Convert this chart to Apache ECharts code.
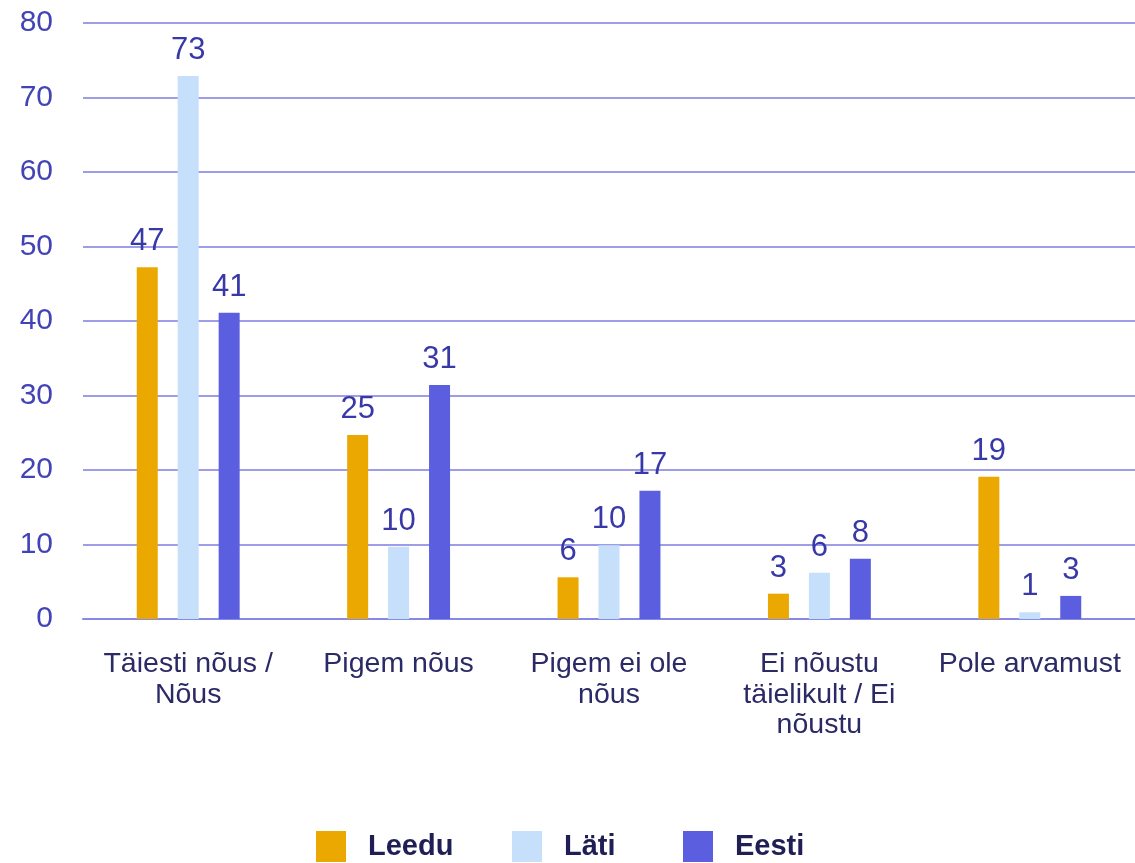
<!DOCTYPE html>
<html>
<head>
<meta charset="utf-8">
<script src="https://cdn.jsdelivr.net/npm/echarts@6/dist/echarts.min.js"></script>
<style>html,body{margin:0;padding:0;background:#fff;}#c{width:1135px;height:863px;}</style>
</head>
<body>
<div id="c"></div>
<script>
const categories = ["Täiesti nõus /\nNõus", "Pigem nõus", "Pigem ei ole\nnõus", "Ei nõustu\ntäielikult / Ei\nnõustu", "Pole arvamust"];
const seriesNames = ["Leedu", "Läti", "Eesti"];
const leedu = [47.2, 24.7, 5.6, 3.4, 19.1];
const lati = [72.9, 9.7, 9.9, 6.2, 0.9];
const eesti = [41.1, 31.4, 17.2, 8.1, 3.1];
const yTicks = [0, 10, 20, 30, 40, 50, 60, 70, 80];

const colors = ["#EBA800", "#C6DFFB", "#5C5EE0"];
const font = "'Liberation Sans', Arial, sans-serif";
const legendLeft = [316, 512, 683];
const chart = echarts.init(document.getElementById('c'));
function mk(name, data, color) {
  return {
    name: name, type: 'bar', data: data, barWidth: 21, barGap: '95%',
    itemStyle: { color: color },
    label: { show: true, position: 'top', distance: 10, color: '#3838A8', fontSize: 31, fontFamily: font,
      formatter: p => Math.round(p.value) },
    emphasis: { disabled: true }
  };
}
chart.setOption({
  animation: false,
  color: colors,
  grid: { left: 83, right: 0, top: 23, bottom: 244, containLabel: false },
  legend: seriesNames.map((n, i) => ({
    left: legendLeft[i], top: 831, padding: 0, itemWidth: 30, itemHeight: 31,
    data: [{ name: n, icon: 'rect' }],
    textStyle: { fontSize: 29, fontWeight: 'bold', color: '#1F1F55', fontFamily: font, padding: [0, 0, 0, 17] }
  })),
  xAxis: {
    type: 'category', data: categories,
    axisLine: { show: true, lineStyle: { color: '#8888E8', width: 2 } },
    axisTick: { show: false },
    axisLabel: { color: '#2A2A66', fontSize: 28.5, fontFamily: font, margin: 30, lineHeight: 30.5, interval: 0 }
  },
  yAxis: {
    type: 'value', min: 0, max: 80, interval: 10,
    axisLine: { show: false }, axisTick: { show: false },
    splitLine: { lineStyle: { color: '#7D7DE0', width: 1.5 } },
    axisLabel: { color: '#4343B8', fontSize: 30, fontFamily: font, margin: 30,
      formatter: v => yTicks.includes(v) ? String(v) : '' }
  },
  series: [mk(seriesNames[0], leedu, colors[0]), mk(seriesNames[1], lati, colors[1]), mk(seriesNames[2], eesti, colors[2])]
});
</script>
</body>
</html>
